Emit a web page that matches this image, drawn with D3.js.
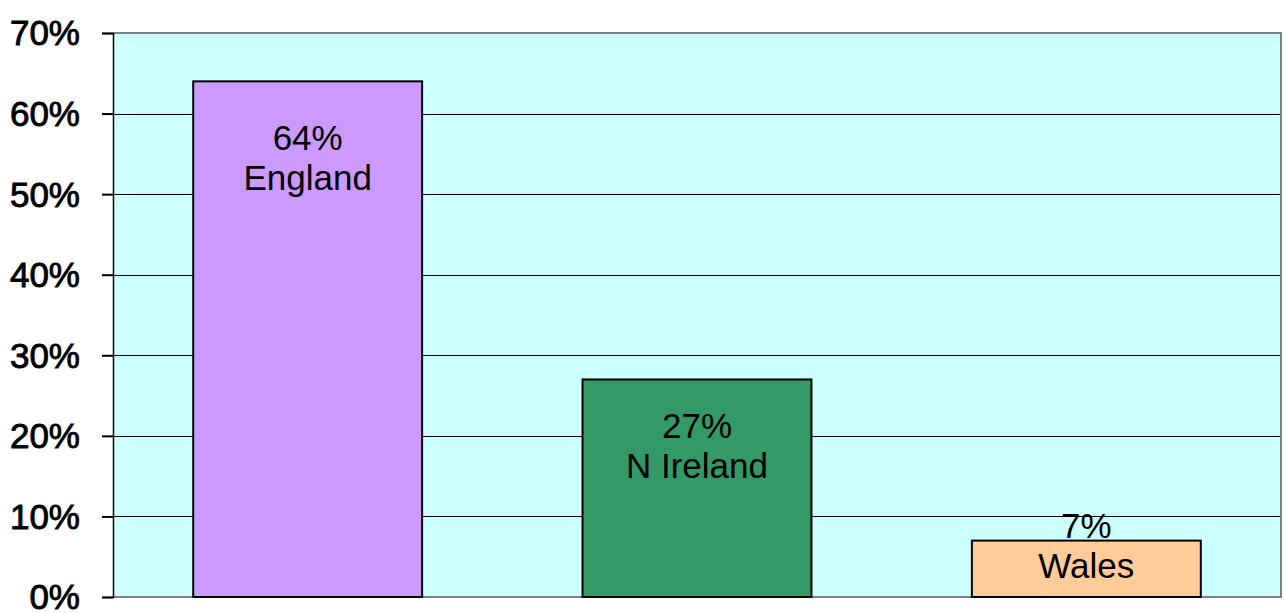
<!DOCTYPE html>
<html>
<head>
<meta charset="utf-8">
<script src="https://cdn.jsdelivr.net/npm/d3@7"></script>
<style>
  html, body { margin: 0; padding: 0; background: #ffffff; }
  svg { display: block; }
</style>
</head>
<body>
<svg id="chart" width="1284" height="613"></svg>
<script>
const categories = ["England", "N Ireland", "Wales"];
const values = [64, 27, 7];
const barColors = ["#CC99FF", "#339966", "#FFCC99"];
const tickValues = [0, 10, 20, 30, 40, 50, 60, 70];
const tickLabels = ["0%", "10%", "20%", "30%", "40%", "50%", "60%", "70%"];

const svg = d3.select("#chart");
const pLeft = 113, pRight = 1281, pTop = 33, pBottom = 597;

const x = d3.scaleBand().domain(categories).range([pLeft, pRight])
  .paddingInner(0.412).paddingOuter(0.206);
const y = d3.scaleLinear().domain([0, 70]).range([pBottom, pTop]);

// plot background
svg.append("rect").attr("x", pLeft).attr("y", pTop)
  .attr("width", pRight - pLeft).attr("height", pBottom - pTop)
  .attr("fill", "#CCFFFF");

// gridlines
svg.append("g").selectAll("line").data(tickValues.filter(v => v > 0 && v < 70)).join("line")
  .attr("x1", pLeft).attr("x2", pRight)
  .attr("y1", d => Math.round(y(d)) + 0.5).attr("y2", d => Math.round(y(d)) + 0.5)
  .attr("stroke", "#000").attr("stroke-width", 1);

// frame (top, right, bottom) grey
svg.append("path")
  .attr("d", `M${pLeft},${pTop} H${pRight} V${pBottom} H${pLeft}`)
  .attr("fill", "none").attr("stroke", "#808080").attr("stroke-width", 2);

// bars
svg.append("g").selectAll("rect").data(values).join("rect")
  .attr("x", (d, i) => x(categories[i]))
  .attr("y", d => y(d))
  .attr("width", x.bandwidth())
  .attr("height", d => pBottom - y(d))
  .attr("fill", (d, i) => barColors[i])
  .attr("stroke", "#000").attr("stroke-width", 2);

// y axis
const yAxis = d3.axisLeft(y).tickValues(tickValues)
  .tickFormat((d, i) => tickLabels[i]).tickSize(11).tickPadding(22);
const ax = svg.append("g").attr("transform", `translate(${pLeft},0)`).call(yAxis);
ax.select(".domain").attr("stroke", "#000").attr("stroke-width", 1.5);
ax.selectAll(".tick line").attr("stroke", "#000").attr("stroke-width", 2);
ax.selectAll(".tick text")
  .attr("font-family", "'Liberation Sans', Arial, sans-serif")
  .attr("font-size", 35).attr("fill", "#000")
  .attr("stroke", "#000").attr("stroke-width", 0.9)
  .attr("dy", "0.34em");

// data labels
const labelBaseline = [69, 59, -3];
const lbl = svg.append("g").selectAll("text").data(values).join("text")
  .attr("x", (d, i) => x(categories[i]) + x.bandwidth() / 2)
  .attr("y", (d, i) => y(d) + labelBaseline[i])
  .attr("text-anchor", "middle")
  .attr("font-family", "'Liberation Sans', Arial, sans-serif")
  .attr("font-size", 35).attr("fill", "#000");
lbl.append("tspan").text(d => d + "%");
lbl.append("tspan")
  .attr("x", (d, i) => x(categories[i]) + x.bandwidth() / 2)
  .attr("dy", 40)
  .text((d, i) => categories[i]);
</script>
</body>
</html>
